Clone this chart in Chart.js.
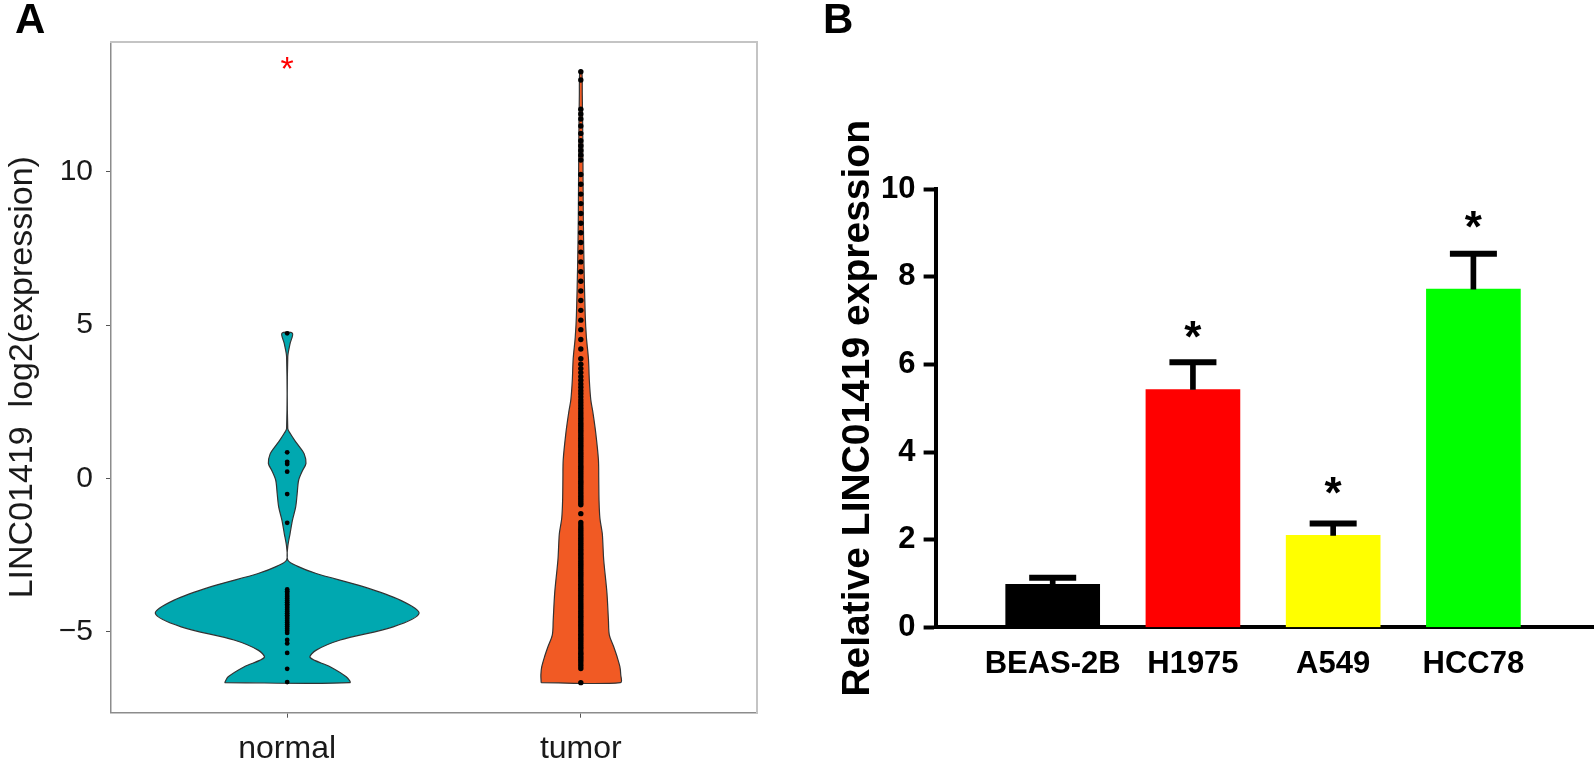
<!DOCTYPE html>
<html>
<head>
<meta charset="utf-8">
<script src="https://cdn.jsdelivr.net/npm/chart.js@4.4.1/dist/chart.umd.min.js"></script>
<style>
    html, body { margin: 0; padding: 0; background: #fff; }
    #wrap { position: relative; width: 1594px; height: 760px; }
    .panel { position: absolute; top: 0; height: 760px; }
    #panelA { left: 0; width: 800px; }
    #panelB { left: 800px; width: 794px; }
</style>
</head>
<body>
<div id="wrap">
    <div class="panel" id="panelA"><canvas id="violinChart"></canvas></div>
    <div class="panel" id="panelB"><canvas id="barChart"></canvas></div>
</div>
<script>
// ---- Panel A : violin plot ----
var groupLabels = ['normal', 'tumor'];
var yTickValues = [-5, 0, 5, 10];
var yTickLabels = ['\u22125', '0', '5', '10'];

// outline of the normal violin: height and half width (in x units)
var normalProfileY = [-6.66, -6.47, -6.14, -5.84, -5.60, -5.27, -4.84, -4.40, -3.97, -3.53, -3.10, -2.86, -2.66, -2.23, -1.79, -1.36, -0.93, -0.50, -0.06, 0.25, 0.49, 0.80, 1.03, 1.25, 1.47, 1.63, 3.96, 4.40, 4.73];
var normalProfileW = [0.213, 0.201, 0.146, 0.078, 0.099, 0.181, 0.361, 0.449, 0.385, 0.259, 0.099, 0.034, 0.002, 0.002, 0.010, 0.018, 0.029, 0.034, 0.039, 0.052, 0.064, 0.058, 0.042, 0.025, 0.010, 0.002, 0.002, 0.010, 0.018];

// outline of the tumor violin
var tumorProfileY = [-6.66, -6.40, -6.14, -5.80, -5.49, -5.10, -4.62, -3.74, -2.66, -2.10, -1.79, -1.30, -0.71, 0.00, 0.60, 1.47, 2.16, 2.56, 3.20, 3.90, 4.60, 5.32, 6.90, 8.50, 10.85, 12.50, 13.30];
var tumorProfileW = [0.135, 0.136, 0.133, 0.123, 0.112, 0.097, 0.094, 0.089, 0.078, 0.075, 0.073, 0.065, 0.062, 0.061, 0.060, 0.051, 0.041, 0.034, 0.029, 0.026, 0.019, 0.015, 0.011, 0.0085, 0.007, 0.005, 0.0034];

// individual samples
var normalDots = [4.73, 0.85, 0.54, 0.47, 0.22, -0.51, -1.45, -3.62, -3.68, -3.74, -3.80, -3.86, -3.92, -3.98, -4.04, -4.10, -4.16, -4.22, -4.28, -4.34, -4.40, -4.46, -4.52, -4.58, -4.64, -4.70, -4.76, -4.83, -4.90, -4.97, -5.04, -5.27, -5.38, -5.69, -6.21, -6.64];
var tumorDots = [-6.66, -6.20, -6.12, -6.05, -5.97, -5.90, -5.83, -5.76, -5.70, -5.63, -5.55, -5.49, -5.42, -5.35, -5.28, -5.21, -5.14, -5.08, -5.01, -4.94, -4.87, -4.80, -4.74, -4.67, -4.60, -4.53, -4.47, -4.40, -4.33, -4.26, -4.19, -4.13, -4.06, -3.99, -3.92, -3.85, -3.79, -3.72, -3.65, -3.58, -3.51, -3.45, -3.38, -3.31, -3.24, -3.17, -3.11, -3.04, -2.97, -2.90, -2.83, -2.77, -2.70, -2.63, -2.56, -2.49, -2.43, -2.36, -2.29, -2.22, -2.15, -2.09, -2.02, -1.95, -1.88, -1.81, -1.74, -1.67, -1.60, -1.52, -1.44, -1.15, -0.86, -0.79, -0.72, -0.65, -0.58, -0.51, -0.44, -0.37, -0.30, -0.23, -0.16, -0.09, -0.02, 0.05, 0.12, 0.19, 0.26, 0.33, 0.40, 0.47, 0.54, 0.61, 0.68, 0.75, 0.82, 0.89, 0.96, 1.03, 1.10, 1.17, 1.24, 1.31, 1.38, 1.45, 1.52, 1.59, 1.66, 1.73, 1.80, 1.88, 1.96, 2.04, 2.12, 2.20, 2.29, 2.38, 2.47, 2.56, 2.66, 2.76, 2.86, 2.97, 3.08, 3.20, 3.32, 3.45, 3.58, 3.72, 3.90, 4.22, 4.53, 4.85, 5.16, 5.48, 5.80, 6.11, 6.43, 6.74, 7.06, 7.38, 7.69, 8.01, 8.32, 8.64, 8.96, 9.27, 9.59, 9.91, 10.38, 10.54, 10.69, 10.85, 11.01, 11.25, 11.49, 11.72, 11.88, 12.04, 12.99, 13.26];

// red significance star above the normal group
var normalStarY = 13.47;

// ---- Panel B : bar chart ----
var barLabels = ['BEAS-2B', 'H1975', 'A549', 'HCC78'];
var barMeans = [0.98, 5.43, 2.10, 7.72];
var barErrors = [0.15, 0.62, 0.27, 0.81];
var barColors = ['#000000', '#ff0000', '#ffff00', '#00ff00'];
var barStarY = [null, 6.72, 3.16, 9.23];

Chart.defaults.font.family = '"Liberation Sans", Arial, sans-serif';

// Builds a closed outline: up the left side, down the right side
function violinOutline(center, ys, ws) {
    var left = ys.map(function (y, i) { return { x: center - ws[i], y: y }; });
    var right = ys.map(function (y, i) { return { x: center + ws[i], y: y }; }).reverse();
    return left.concat(right, [left[0]]);
}

function dotColumn(center, values) {
    return values.map(function (v) { return { x: center, y: v }; });
}

// Draws the panel letter and the "*" marks through the chart's scales
function makeMarks(letter, letterX, stars, starFont, starColor, starLift) {
    return {
        id: 'marks' + letter,
        afterDatasetsDraw: function (chart) {
            var ctx = chart.ctx;
            ctx.save();
            ctx.fillStyle = '#000';
            ctx.font = 'bold 42px "Liberation Sans", Arial, sans-serif';
            ctx.textAlign = 'left';
            ctx.textBaseline = 'alphabetic';
            ctx.fillText(letter, letterX, 33);

            ctx.font = starFont;
            ctx.fillStyle = starColor;
            ctx.textAlign = 'center';
            stars.forEach(function (s) {
                var px = chart.scales.x.getPixelForValue(s.x);
                var py = chart.scales.y.getPixelForValue(s.y);
                ctx.fillText('*', px, py + starLift);
            });
            ctx.restore();
        }
    };
}

// Panel A
new Chart(document.getElementById('violinChart'), {
    type: 'scatter',
    data: {
        datasets: [
            { data: dotColumn(1, normalDots), pointRadius: 2.4, backgroundColor: '#000', borderWidth: 0, order: 1 },
            { data: dotColumn(2, tumorDots), pointRadius: 2.7, backgroundColor: '#000', borderWidth: 0, order: 1 },
            {
                data: violinOutline(1, normalProfileY, normalProfileW),
                showLine: true, fill: 'shape', tension: 0.3,
                backgroundColor: '#00a8b0', borderColor: '#333', borderWidth: 1.2,
                pointRadius: 0, order: 2
            },
            {
                data: violinOutline(2, tumorProfileY, tumorProfileW),
                showLine: true, fill: 'shape', tension: 0.3,
                backgroundColor: '#f15a24', borderColor: '#333', borderWidth: 1.2,
                pointRadius: 0, order: 2
            }
        ]
    },
    options: {
        responsive: true,
        maintainAspectRatio: false,
        animation: false,
        layout: { autoPadding: false, padding: { top: 41.7, right: 43, bottom: 0, left: 0 } },
        plugins: { legend: { display: false }, tooltip: { enabled: false } },
        scales: {
            x: {
                type: 'linear', min: 0.4, max: 2.6,
                afterBuildTicks: function (s) { s.ticks = [{ value: 1 }, { value: 2 }]; },
                afterFit: function (s) { s.height = 47.3; },
                ticks: {
                    callback: function (v, i) { return groupLabels[i]; },
                    font: { size: 32 }, color: '#1a1a1a', padding: 12, maxRotation: 0
                },
                grid: { drawOnChartArea: false, tickLength: 5, tickColor: '#555' },
                border: { color: '#8c8c8c', width: 1.5 }
            },
            y: {
                type: 'linear', min: -7.64, max: 14.24,
                afterBuildTicks: function (s) { s.ticks = yTickValues.map(function (v) { return { value: v }; }); },
                afterFit: function (s) { s.width = 111; },
                ticks: {
                    callback: function (v, i) { return yTickLabels[i]; },
                    font: { size: 30 }, color: '#1a1a1a', padding: 13
                },
                grid: { drawOnChartArea: false, tickLength: 5, tickColor: '#555' },
                border: { color: '#8c8c8c', width: 1.5 },
                title: {
                    display: true, text: 'LINC01419  log2(expression)',
                    font: { size: 34 }, color: '#1a1a1a', padding: { top: 2, bottom: 0 }
                }
            },
            x2: {
                type: 'linear', position: 'top',
                ticks: { display: false }, grid: { display: false, drawTicks: false },
                border: { color: '#c4c4c4', width: 2 },
                afterFit: function (s) { s.height = 0; }
            },
            y2: {
                type: 'linear', position: 'right',
                ticks: { display: false }, grid: { display: false, drawTicks: false },
                border: { color: '#c4c4c4', width: 2 },
                afterFit: function (s) { s.width = 0; }
            }
        }
    },
    plugins: [makeMarks('A', 15, [{ x: 1, y: normalStarY }], '34px "Liberation Sans", Arial, sans-serif', '#ff0000', 15)]
});

// Panel B
var barPos = barLabels.map(function (l, i) { return i + 1; });
var barStars = [];
barStarY.forEach(function (v, i) { if (v !== null) barStars.push({ x: barPos[i], y: v }); });

new Chart(document.getElementById('barChart'), {
    type: 'bar',
    data: {
        datasets: [
            {
                type: 'line', showLine: false,
                data: barMeans.map(function (m, i) { return { x: barPos[i], y: m + barErrors[i] }; }),
                pointStyle: 'line', pointRadius: 23.5, pointBorderWidth: 6,
                pointBorderColor: '#000', borderColor: '#000', order: 0
            },
            {
                data: barMeans.map(function (m, i) { return { x: barPos[i], y: [m, m + barErrors[i]] }; }),
                backgroundColor: '#000', barThickness: 5, grouped: false, order: 1
            },
            {
                data: barMeans.map(function (m, i) { return { x: barPos[i], y: m }; }),
                backgroundColor: barColors, barThickness: 94, grouped: false, order: 2
            }
        ]
    },
    options: {
        responsive: true,
        maintainAspectRatio: false,
        animation: false,
        layout: { autoPadding: false, padding: { top: 189.3, right: 0, bottom: 72.7, left: 0 } },
        plugins: { legend: { display: false }, tooltip: { enabled: false } },
        scales: {
            x: {
                type: 'linear', min: 0.165, max: 4.86, offset: false,
                afterBuildTicks: function (s) { s.ticks = barPos.map(function (v) { return { value: v }; }); },
                afterFit: function (s) { s.height = 60; },
                ticks: {
                    callback: function (v, i) { return barLabels[i]; },
                    font: { size: 31, weight: 'bold' }, color: '#000', padding: 19,
                    autoSkip: false, maxRotation: 0, minRotation: 0
                },
                grid: { display: false, drawTicks: false, offset: false },
                border: { color: '#000', width: 4 }
            },
            y: {
                type: 'linear', min: 0, max: 10,
                afterFit: function (s) { s.width = 135.6; },
                ticks: { stepSize: 2, font: { size: 31, weight: 'bold' }, color: '#000', padding: 8 },
                grid: { drawOnChartArea: false, tickLength: 12, tickWidth: 4, tickColor: '#000' },
                border: { color: '#000', width: 4 },
                title: {
                    display: true, text: 'Relative LINC01419 expression',
                    font: { size: 39, weight: 'bold' }, color: '#000', padding: { top: 35, bottom: 0 }
                }
            }
        }
    },
    plugins: [makeMarks('B', 23, barStars, 'bold 44px "Liberation Sans", Arial, sans-serif', '#000', 19)]
});
</script>
</body>
</html>
